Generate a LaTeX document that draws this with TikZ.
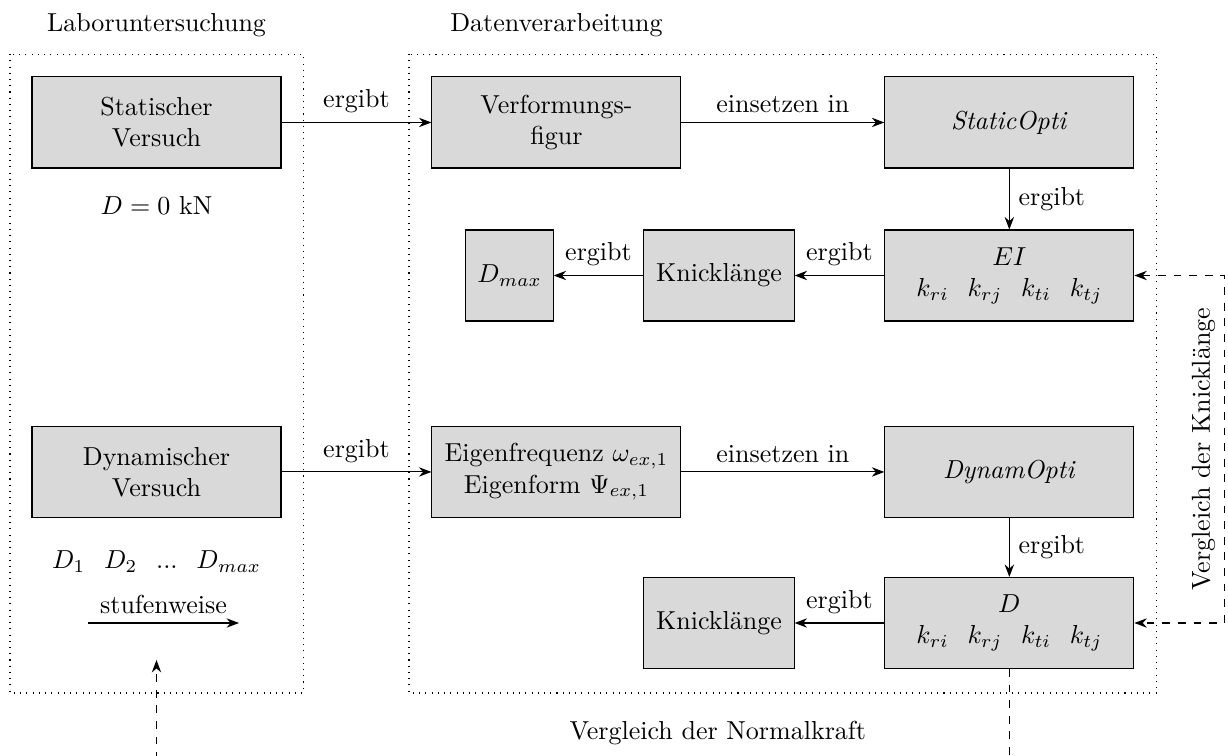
\documentclass[tikz,border=0pt]{standalone}
\usepackage{tikz}
\usetikzlibrary{arrows.meta,positioning,calc}

\begin{document}
\begin{tikzpicture}[>=Stealth,
    box/.style={draw,fill=gray!30,minimum width=3.365cm,minimum height=1.23cm,align=center},
    smallbox/.style={box,minimum width=2.03cm},
    frame/.style={dotted},
    cmp/.style={dashed,->}]
  \useasboundingbox (0,0) rectangle (16.595,-10.203);
  %% Frames with titles
  \draw[frame] (0.135,-0.730) rectangle (4.095,-9.365);
  \draw[frame] (5.527,-0.730) rectangle (15.635,-9.365);
  \node (lab) at (2.115,-0.338) {Laboruntersuchung};
  \node (dat) at (7.52,-0.338) {Datenverarbeitung};
  %% Static test
  \node[box] (stat) at (2.115,-1.655) {Statischer\\Versuch};
  \node (dnull) at (2.115,-2.78) {$D = 0$ kN};
  \node[box] (verf) at (7.52,-1.655) {Verformungs-\\figur};
  \node[box] (sopt) at (13.64,-1.655) {\textit{StaticOpti}};
  \node[box] (ei) at (13.64,-3.723)
        {$EI$\\$k_{ri}\;\;\,k_{rj}\;\;\,k_{ti}\;\;\,k_{tj}$};
  \node[smallbox] (knick1) at (9.716,-3.723) {Knicklänge};
  \node[box,minimum width=1.18cm] (dmax) at (6.885,-3.723) {$D_{max}$};
  %% Dynamic test
  \node[box] (dyn) at (2.115,-6.378) {Dynamischer\\Versuch};
  \node (dstufen) at (2.115,-7.59) {$D_1\;\;\,D_2\;\;\,...\;\;\,D_{max}$};
  \coordinate (s1) at (1.189,-8.419);
  \coordinate (s2) at (3.23,-8.419);
  \node[box] (eig) at (7.52,-6.378)
        {Eigenfrequenz $\omega_{ex,1}$\\Eigenform $\Psi_{ex,1}$};
  \node[box] (dopt) at (13.64,-6.378) {\textit{DynamOpti}};
  \node[box] (dk) at (13.64,-8.419)
        {$D$\\$k_{ri}\;\;\,k_{rj}\;\;\,k_{ti}\;\;\,k_{tj}$};
  \node[smallbox] (knick2) at (9.716,-8.419) {Knicklänge};
  %% Arrows
  \draw[->] (stat) -- node[above]{ergibt} (verf);
  \draw[->] (verf) -- node[above]{einsetzen in} (sopt);
  \draw[->] (sopt) -- node[right]{ergibt} (ei);
  \draw[->] (ei) -- node[above]{ergibt} (knick1);
  \draw[->] (knick1) -- node[above]{ergibt} (dmax);
  \draw[->] (dyn) -- node[above]{ergibt} (eig);
  \draw[->] (eig) -- node[above]{einsetzen in} (dopt);
  \draw[->] (dopt) -- node[right]{ergibt} (dk);
  \draw[->] (dk) -- node[above]{ergibt} (knick2);
  \draw[->] (s1) -- node[above]{stufenweise} (s2);
  %% Comparisons
  \draw[cmp,<->] (ei.east) -- ++(1.216,0) coordinate (kr)
        -- node[midway,above,rotate=90]{Vergleich der Knicklänge} (kr |- dk.east)
        -- (dk.east);
  \coordinate (nkend) at (2.115,-8.919);
  \draw[cmp] (dk.south) -- ++(0,-1.6) -| (nkend);
  \node (nkr) at (9.70,-9.91) {Vergleich der Normalkraft};
\end{tikzpicture}
\end{document}
